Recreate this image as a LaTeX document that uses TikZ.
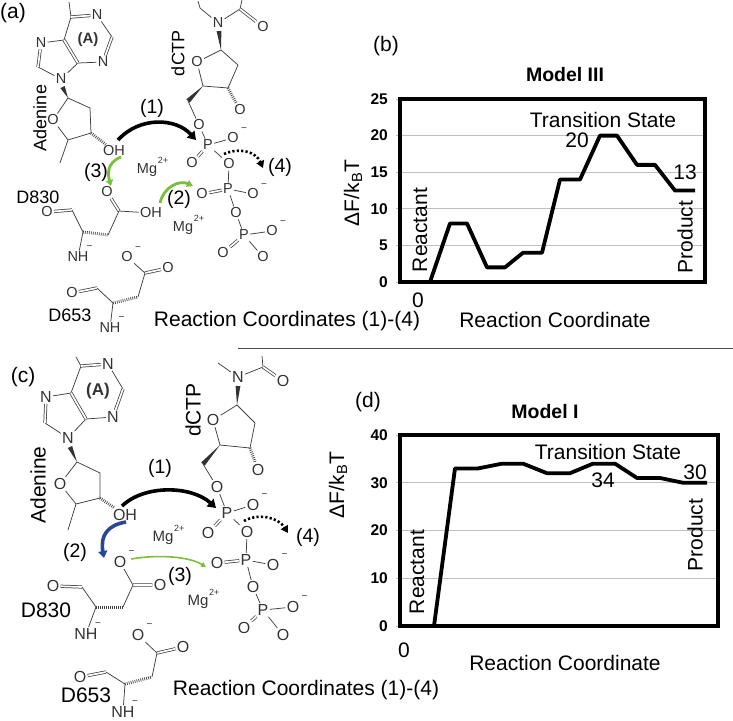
\documentclass[tikz,border=0pt]{standalone}
\usepackage{fontspec}
\setmainfont{Liberation Sans}
\usetikzlibrary{arrows.meta,calc}
\definecolor{arrgreen}{RGB}{122,190,58}
\definecolor{arrblue}{RGB}{40,72,150}
\newcommand\wedgebond[2]{\fill[black!80] (#1) -- ($(#2)!2.4pt!90:(#1)$) -- ($(#2)!2.4pt!-90:(#1)$) -- cycle;}
\tikzset{
  atom/.style={inner sep=1.2pt, text=black!80, font=\fontsize{14.5}{14.5}\selectfont},
  atomc/.style={atom, font=\fontsize{16}{16}\selectfont},
  anion/.style={label={[inner sep=0pt, label distance=1pt, text=black!80, font=\fontsize{10}{10}\selectfont]40:−}},
  ion/.style={atom, label={[inner sep=0pt, label distance=-1pt, text=black!80, font=\fontsize{9}{9}\selectfont]30:2+}},
  bond/.style={black!75, line width=0.75pt},
  dbond/.style={bond, double=white, double distance=1.7pt},
  hbond/.style={black!75, line width=3pt, dash pattern=on 0.7pt off 1.3pt},
  steplabel/.style={font=\fontsize{19.5}{19.5}\selectfont},
  molname/.style={font=\fontsize{18}{18}\selectfont},
  molnamec/.style={font=\fontsize{21}{21}\selectfont},
  pusharrow/.style={line width=3.6pt, -{Triangle[width=10pt,length=8pt]}},
  greenpush/.style={arrgreen, line width=2.8pt, -{Triangle[width=7pt,length=6pt]}},
  bluepush/.style={arrblue, line width=3.6pt, -{Triangle[width=9pt,length=7pt]}},
  thinpush/.style={arrgreen, line width=1.6pt, -{Triangle[width=5pt,length=5pt]}},
  dotpush/.style={line width=2.6pt, dash pattern=on 2.2pt off 2.2pt, -{Triangle[width=8pt,length=7pt]}},
  plotframe/.style={line width=4pt},
  energy/.style={line width=3.8pt, line join=round},
  gridline/.style={black!25, line width=0.7pt},
  axlabel/.style={font=\bfseries\fontsize{15.5}{15.5}\selectfont, anchor=east, inner sep=1pt},
  txt/.style={font=\fontsize{21}{21}\selectfont, inner sep=1.5pt},
  plottitle/.style={font=\bfseries\fontsize{19.5}{19.5}\selectfont}
}
\begin{document}
\begin{tikzpicture}[x=1pt,y=-1pt]
\useasboundingbox (0,0) rectangle (733,720);
\node[txt] (tagA) at (13,13) {(a)};
\coordinate (aC6) at (71,17);
\coordinate (aC6t) at (69,2);
\node[atom] (aN1) at (97,15) {N};
\coordinate (aC2) at (112,37);
\node[atom] (aN3) at (103,62) {N};
\coordinate (aC4) at (78,63);
\coordinate (aC5) at (64,40);
\node[atom] (aN7) at (41,43) {N};
\coordinate (aC8) at (38,67);
\node[atom] (aN9) at (61,79) {N};
\draw[bond] (aC6t) -- (aC6) -- (aC5) -- (aN7) (aN1) -- (aC2) (aN3) -- (aC4) -- (aN9) -- (aC8);
\draw[dbond] (aC6) -- (aN1) (aC2) -- (aN3) (aC4) -- (aC5) (aN7) -- (aC8);
\node[atom, font=\bfseries\fontsize{15}{15}\selectfont] (aA) at (88,40) {(A)};
\coordinate (a1s) at (68,98);
\coordinate (a2s) at (90,108);
\coordinate (a3s) at (91,133);
\coordinate (a4s) at (68,140);
\coordinate (aMe) at (60,163);
\coordinate (aN9w) at (62.5,87);
\node[atom] (aO4) at (53,120) {O};
\node[atom] (aOH) at (114,151) {OH};
\wedgebond{a1s}{aN9w}
\draw[bond] (a1s) -- (a2s) -- (a3s) -- (a4s) -- (aO4) -- (a1s) (a4s) -- (aMe);
\draw[hbond] (a3s) -- (aOH);
\node[molname, rotate=90] (aAde) at (40,118) {Adenine};
\node[atom] (dN) at (218,23) {N};
\coordinate (dNl) at (200,8);
\coordinate (dNlt) at (198,1);
\coordinate (dC) at (240,9);
\coordinate (dCt) at (242,0);
\node[atom] (dCO) at (263,27) {O};
\draw[bond] (dNlt) -- (dNl) -- (dN) -- (dC) -- (dCt);
\draw[dbond] (dC) -- (dCO);
\coordinate (d1s) at (221,50);
\coordinate (dNw) at (219,31);
\coordinate (d2s) at (238,65);
\coordinate (d3s) at (228,88);
\coordinate (d4s) at (203,86);
\coordinate (d5s) at (188,101);
\node[atom] (dO4) at (197,62) {O};
\node[atom] (dO3) at (240,110) {O};
\node[atom] (dO5) at (199,125) {O};
\wedgebond{d1s}{dNw}
\wedgebond{d4s}{d5s}
\draw[bond] (d1s) -- (dO4) -- (d4s) -- (d3s) -- (d2s) -- (d1s) (d5s) -- (dO5);
\draw[hbond] (d3s) -- (dO3);
\node[molname, rotate=90] (dName) at (178,53) {dCTP};
\node[atom] (aP1) at (208,145) {P};
\node[atom, anion] (aP1r) at (233,138) {O};
\node[atom] (aP1l) at (192,163) {O};
\node[atom] (aP1b) at (229,164) {O};
\node[atom] (aP2) at (228,189) {P};
\node[atom] (aP2l) at (202,194) {O};
\node[atom, anion] (aP2r) at (253,194) {O};
\node[atom] (aP2b) at (236,213) {O};
\node[atom] (aP3) at (244,235) {P};
\node[atom, anion] (aP3r) at (272,231) {O};
\node[atom] (aP3l) at (223,253) {O};
\node[atom] (aP3d) at (263,257) {O};
\draw[bond] (dO5) -- (aP1) -- (aP1r) (aP1) -- (aP1b) -- (aP2) -- (aP2r) (aP2) -- (aP2b) -- (aP3) -- (aP3r) (aP3) -- (aP3d);
\draw[dbond] (aP1) -- (aP1l) (aP2) -- (aP2l) (aP3) -- (aP3l);
\node[ion] (aMg1) at (147,170) {Mg};
\node[ion] (aMg2) at (183,228) {Mg};
\node[atom] (aDo) at (107,192) {O};
\coordinate (aDc) at (119,211);
\node[atom] (aDoh) at (151,213) {OH};
\coordinate (aDb) at (108,235);
\coordinate (aDa) at (83,232);
\coordinate (aDk) at (72,210);
\node[atom] (aDko) at (47,212) {O};
\node[atom, anion] (aDn) at (78,257) {NH};
\draw[dbond] (aDc) -- (aDo) (aDk) -- (aDko);
\draw[bond] (aDc) -- (aDoh) (aDc) -- (aDb) (aDa) -- (aDk) (aDa) -- (aDn);
\draw[hbond] (aDa) -- (aDb);
\node[molname] (aD830) at (38,197) {D830};
\node[atom, anion] (aEo) at (127,257) {O};
\coordinate (aEc) at (145,273);
\node[atom] (aEo2) at (168,268) {O};
\coordinate (aEb) at (138,297);
\coordinate (aEa) at (113,303);
\coordinate (aEk) at (97,288);
\node[atom] (aEko) at (72,293) {O};
\node[atom, anion] (aEn) at (110,328) {NH};
\draw[dbond] (aEc) -- (aEo2) (aEk) -- (aEko);
\draw[bond] (aEo) -- (aEc) -- (aEb) (aEa) -- (aEk) (aEa) -- (aEn);
\draw[hbond] (aEa) -- (aEb);
\node[molname] (aD653) at (70,315) {D653};
\coordinate (aR1s) at (118,140);
\coordinate (aR1e) at (196,140);
\coordinate (aR3s) at (121,157);
\coordinate (aR3e) at (111,186);
\coordinate (aR2s) at (160,203);
\coordinate (aR2e) at (193,186);
\coordinate (aR4s) at (224,154);
\coordinate (aR4e) at (263,168);
\draw[pusharrow] (aR1s) .. controls (140,116) and (176,118) .. (aR1e);
\draw[greenpush] (aR3s) .. controls (106,163) and (108,175) .. (aR3e);
\draw[greenpush] (aR2s) .. controls (164,186) and (180,180) .. (aR2e);
\draw[dotpush] (aR4s) .. controls (240,147) and (256,152) .. (aR4e);
\node[steplabel] (aL1) at (152,108) {(1)};
\node[steplabel] (aL2) at (179,199) {(2)};
\node[steplabel] (aL3) at (96,172) {(3)};
\node[steplabel] (aL4) at (280,167) {(4)};
\node[txt] (aRC) at (287,321) {Reaction Coordinates (1)-(4)};
\node[txt] (tagB) at (386,46) {(b)};
\node[plottitle] (bTitle) at (565,75) {Model III};
\begin{scope}[shift={(400,282)}, y=7.32pt]
\foreach \v in {5,10,15,20} \draw[gridline] (0,\v) -- (305,\v);
\foreach \v in {0,5,...,25} {\draw[gridline] (-4,\v) -- (0,\v); \node[axlabel] at (-11,\v) {\v};}
\draw[energy] plot coordinates {(30,0) (50,8) (67,8) (87,2) (105,2) (123,4) (142,4) (160,14) (180,14) (200,20) (217,20) (237,16) (255,16) (275,12.5) (295,12.5)};
\draw[plotframe] (0,0) rectangle (305,25);
\end{scope}
\node[txt] (bTS) at (603,120) {Transition State};
\node[txt] (bTSv) at (577,140) {20};
\node[txt] (bPv) at (685,172) {13};
\node[txt, rotate=90] (bR) at (420,230) {Reactant};
\node[txt, rotate=90] (bP) at (685,237) {Product};
\node[txt] (bZero) at (418,300) {0};
\node[txt] (bX) at (555,320) {Reaction Coordinate};
\node[txt, rotate=90] (bY) at (353,193) {ΔF/k\textsubscript{B}T};
\draw[black!70, line width=1pt] (238,348) -- (733,348);
\node[txt] (tagC) at (23,377) {(c)};
\coordinate (cC6) at (81,366);
\coordinate (cC6t) at (76,357);
\node[atomc] (cN1) at (108,364) {N};
\coordinate (cC2) at (123,389);
\node[atomc] (cN3) at (113,417) {N};
\coordinate (cC4) at (86,419);
\coordinate (cC5) at (71,393);
\node[atomc] (cN7) at (46,397) {N};
\coordinate (cC8) at (45,423);
\node[atomc] (cN9) at (68,438) {N};
\draw[bond] (cC6t) -- (cC6) -- (cC5) -- (cN7) (cN1) -- (cC2) (cN3) -- (cC4) -- (cN9) -- (cC8);
\draw[dbond] (cC6) -- (cN1) (cC2) -- (cN3) (cC4) -- (cC5) (cN7) -- (cC8);
\node[atomc, font=\bfseries\fontsize{17}{17}\selectfont] (cA) at (98,391) {(A)};
\coordinate (c1s) at (77,462);
\coordinate (c2s) at (100,473);
\coordinate (c3s) at (100,498);
\coordinate (c4s) at (76,504);
\coordinate (cMe) at (68,530);
\coordinate (cN9w) at (70,447);
\node[atomc] (cO4) at (60,484) {O};
\node[atomc] (cOH) at (125,515) {OH};
\wedgebond{c1s}{cN9w}
\draw[bond] (c1s) -- (c2s) -- (c3s) -- (c4s) -- (cO4) -- (c1s) (c4s) -- (cMe);
\draw[hbond] (c3s) -- (cOH);
\node[molnamec, rotate=90] (cAde) at (38,485) {Adenine};
\node[atomc] (eN) at (238,377) {N};
\coordinate (eNl) at (218,363);
\coordinate (eC) at (263,367);
\coordinate (eCt) at (262,356);
\node[atomc] (eCO) at (283,381) {O};
\draw[bond] (eNl) -- (eN) -- (eC) -- (eCt);
\draw[dbond] (eC) -- (eCO);
\coordinate (e1s) at (237,405);
\coordinate (eNw) at (238,386);
\coordinate (e2s) at (255,423);
\coordinate (e3s) at (250,448);
\coordinate (e4s) at (220,445);
\coordinate (e5s) at (203,464);
\node[atomc] (eO4) at (213,420) {O};
\node[atomc] (eO3) at (258,470) {O};
\node[atomc] (eO5) at (217,487) {O};
\wedgebond{e1s}{eNw}
\wedgebond{e4s}{e5s}
\draw[bond] (e1s) -- (eO4) -- (e4s) -- (e3s) -- (e2s) -- (e1s) (e5s) -- (eO5);
\draw[hbond] (e3s) -- (eO3);
\node[molnamec, rotate=90] (eName) at (193,410) {dCTP};
\node[atomc] (cP1) at (227,513) {P};
\node[atomc, anion] (cP1r) at (253,505) {O};
\node[atomc] (cP1l) at (208,533) {O};
\node[atomc] (cP1b) at (247,532) {O};
\node[atomc] (cP2) at (246,560) {P};
\node[atomc] (cP2l) at (217,563) {O};
\node[atomc, anion] (cP2r) at (273,565) {O};
\node[atomc] (cP2b) at (253,587) {O};
\node[atomc] (cP3) at (263,610) {P};
\node[atomc, anion] (cP3r) at (293,607) {O};
\node[atomc] (cP3l) at (244,628) {O};
\node[atomc] (cP3d) at (283,635) {O};
\draw[bond] (eO5) -- (cP1) -- (cP1r) (cP1) -- (cP1b) -- (cP2) -- (cP2r) (cP2) -- (cP2b) -- (cP3) -- (cP3r) (cP3) -- (cP3d);
\draw[dbond] (cP1) -- (cP1l) (cP2) -- (cP2l) (cP3) -- (cP3l);
\node[ion, font=\fontsize{15}{15}\selectfont] (cMg1) at (163,538) {Mg};
\node[ion, font=\fontsize{15}{15}\selectfont] (cMg2) at (198,602) {Mg};
\node[atomc, anion] (cDo) at (120,562) {O};
\coordinate (cDc) at (133,585);
\node[atomc] (cDo2) at (160,585) {O};
\coordinate (cDb) at (123,607);
\coordinate (cDa) at (96,607);
\coordinate (cDk) at (82,587);
\node[atomc] (cDko) at (53,586) {O};
\node[atomc, anion] (cDn) at (86,634) {NH};
\draw[dbond] (cDc) -- (cDo2) (cDk) -- (cDko);
\draw[bond] (cDo) -- (cDc) -- (cDb) (cDa) -- (cDk) (cDa) -- (cDn);
\draw[hbond] (cDa) -- (cDb);
\node[molnamec] (cD830) at (46,610) {D830};
\node[atomc, anion] (cEo) at (138,635) {O};
\coordinate (cEc) at (157,653);
\node[atomc] (cEo2) at (183,647) {O};
\coordinate (cEb) at (152,677);
\coordinate (cEa) at (125,684);
\coordinate (cEk) at (106,672);
\node[atomc] (cEko) at (80,677) {O};
\node[atomc, anion] (cEn) at (123,712) {NH};
\draw[dbond] (cEc) -- (cEo2) (cEk) -- (cEko);
\draw[bond] (cEo) -- (cEc) -- (cEb) (cEa) -- (cEk) (cEa) -- (cEn);
\draw[hbond] (cEa) -- (cEb);
\node[molnamec] (cD653) at (86,695) {D653};
\coordinate (cR1s) at (122,506);
\coordinate (cR1e) at (216,508);
\coordinate (cR2s) at (126,522);
\coordinate (cR2e) at (104,558);
\coordinate (cR3s) at (131,559);
\coordinate (cR3e) at (206,567);
\coordinate (cR4s) at (244,521);
\coordinate (cR4e) at (288,533);
\draw[pusharrow] (cR1s) .. controls (145,484) and (192,486) .. (cR1e);
\draw[bluepush] (cR2s) .. controls (108,525) and (100,535) .. (cR2e);
\draw[thinpush] (cR3s) .. controls (160,554) and (190,557) .. (cR3e);
\draw[dotpush] (cR4s) .. controls (258,513) and (278,517) .. (cR4e);
\node[steplabel] (cL1) at (160,468) {(1)};
\node[steplabel] (cL2) at (75,552) {(2)};
\node[steplabel] (cL3) at (180,576) {(3)};
\node[steplabel] (cL4) at (308,537) {(4)};
\node[txt] (cRC) at (306,690) {Reaction Coordinates (1)-(4)};
\node[txt] (tagD) at (368,402) {(d)};
\node[plottitle] (dTitle) at (545,412) {Model I};
\begin{scope}[shift={(400,626)}, y=4.775pt]
\foreach \v in {10,20,30} \draw[gridline] (0,\v) -- (318,\v);
\foreach \v in {0,10,...,40} {\draw[gridline] (-4,\v) -- (0,\v); \node[axlabel] at (-11,\v) {\v};}
\draw[energy] plot coordinates {(34,0) (55,33) (78,33) (102,34) (123,34) (147,32) (170,32) (193,34) (215,34) (237,31) (260,31) (283,30) (307,30)};
\draw[plotframe] (0,0) rectangle (318,40);
\end{scope}
\node[txt] (dTS) at (608,452) {Transition State};
\node[txt] (dTSv) at (603,480) {34};
\node[txt] (dPv) at (695,472) {30};
\node[txt, rotate=90] (dR) at (417,572) {Reactant};
\node[txt, rotate=90] (dP) at (695,535) {Product};
\node[txt] (dZero) at (404,650) {0};
\node[txt] (dX) at (565,663) {Reaction Coordinate};
\node[txt, rotate=90] (dY) at (338,485) {ΔF/k\textsubscript{B}T};
\end{tikzpicture}
\end{document}
